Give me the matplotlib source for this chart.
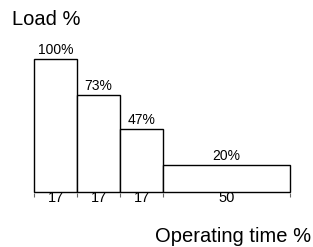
import matplotlib
matplotlib.use("Agg")
import matplotlib.pyplot as plt

plt.rcParams['font.family'] = ['Liberation Sans', 'DejaVu Sans']

time_share = [17, 17, 17, 50]
load = [100, 73, 47, 20]
load_labels = ["100%", "73%", "47%", "20%"]

edges = [0]
for w in time_share:
    edges.append(edges[-1] + w)
centers = [(edges[i] + edges[i + 1]) / 2 for i in range(len(time_share))]

fig = plt.figure(figsize=(3.13, 2.47), dpi=100)
ax = fig.add_axes([34 / 313, 1 - 192 / 247, 256 / 313, 133 / 247])

ax.bar(edges[:-1], load, width=time_share, align='edge',
       facecolor='white', edgecolor='black', linewidth=1.0, clip_on=False)
for c, h, t in zip(centers, load, load_labels):
    ax.text(c, h + 1.5, t, ha='center', va='bottom', fontsize=10)

ax.set_xlim(edges[0], edges[-1])
ax.set_ylim(0, 100)
for s in ax.spines.values():
    s.set_visible(False)
ax.spines['bottom'].set_position(('outward', 1.0))
ax.set_yticks([])
ax.set_xticks(edges)
ax.set_xticklabels([])
ax.set_xticks(centers, minor=True)
ax.set_xticklabels([str(v) for v in time_share], minor=True, fontsize=10.5)
ax.tick_params(axis='x', which='major', length=3, width=0.8, color='#666666', direction='out')
ax.tick_params(axis='x', which='minor', length=0, pad=-2)

fig.text(12 / 313, 1 - 25 / 247, "Load %", fontsize=14.5, ha='left', va='baseline')
fig.text(311 / 313, 1 - 242 / 247, "Operating time %", fontsize=14.5, ha='right', va='baseline')

fig.savefig("out.png", dpi=100)
